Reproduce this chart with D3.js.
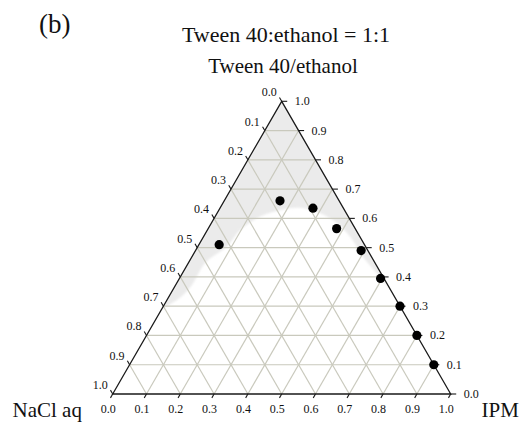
<!DOCTYPE html>
<html>
<head>
<meta charset="utf-8">
<script src="https://cdn.jsdelivr.net/npm/d3@7/dist/d3.min.js"></script>
<style>
  html, body { margin: 0; padding: 0; background: #fff; }
  svg { display: block; }
  text { font-family: "Liberation Serif", "Times New Roman", serif; fill: #111; }
</style>
</head>
<body>
<svg id="chart" width="526" height="428"></svg>
<script>
// Measured compositions (mass fractions); each triple sums to 1
const tweenEthanol = [0.51, 0.66, 0.635, 0.565, 0.49, 0.395, 0.30, 0.20, 0.10];
const ipm          = [0.06, 0.165, 0.275, 0.38, 0.49, 0.595, 0.70, 0.80, 0.90];
const naclAq       = [0.43, 0.175, 0.09, 0.055, 0.02, 0.01, 0.00, 0.00, 0.00];

// Boundary of the shaded region (Tween 40/ethanol, IPM), left edge to right edge
const boundaryTween = [0.29, 0.33, 0.37, 0.45, 0.503, 0.56, 0.606, 0.628, 0.636, 0.618, 0.584, 0.537, 0.469, 0.413, 0.355];
const boundaryIPM   = [0.00, 0.035, 0.048, 0.05, 0.086, 0.097, 0.133, 0.181, 0.236, 0.304, 0.371, 0.434, 0.506, 0.574, 0.645];

const tickValues = [0.0, 0.1, 0.2, 0.3, 0.4, 0.5, 0.6, 0.7, 0.8, 0.9, 1.0];
const gridValues = [0.1, 0.2, 0.3, 0.4, 0.5, 0.6, 0.7, 0.8, 0.9];

const svg = d3.select("#chart");

// Ternary mapping: horizontal position along the base, vertical by Tween fraction
const base = d3.scaleLinear().domain([0, 1]).range([112.7, 450.7]);
const yT = d3.scaleLinear().domain([0, 1]).range([394, 101.3]);
const pt = (t, i) => [base(i + t / 2), yT(t)];

const apex = pt(1, 0), cornerL = pt(0, 0), cornerR = pt(0, 1);

// Clip everything inside the triangle
const defs = svg.append("defs");
defs.append("clipPath").attr("id", "tri")
  .append("path").attr("d", `M${apex}L${cornerL}L${cornerR}Z`);
defs.append("filter").attr("id", "soft")
  .attr("x", "-10%").attr("y", "-10%").attr("width", "120%").attr("height", "120%")
  .append("feGaussianBlur").attr("stdDeviation", 1.3);

// Shaded region above the boundary curve
const curvePts = boundaryTween.map((t, k) => pt(t, boundaryIPM[k]));
const curvePath = d3.line().curve(d3.curveCatmullRom.alpha(0.5))(curvePts);
const regionPath = `M${apex}L${curvePts[0]}` + curvePath.replace(/^M[^C]*/, "") + `L${apex}Z`;
svg.append("g").attr("clip-path", "url(#tri)")
  .append("path")
  .attr("d", regionPath)
  .attr("fill", "#ebebeb")
  .attr("filter", "url(#soft)");

// Grid lines for the three components
const grid = svg.append("g")
  .attr("stroke", "#c9c9bd").attr("stroke-width", 1.2).attr("fill", "none");
gridValues.forEach(v => {
  // constant Tween 40/ethanol
  grid.append("line").attr("x1", pt(v, 0)[0]).attr("y1", pt(v, 0)[1])
    .attr("x2", pt(v, 1 - v)[0]).attr("y2", pt(v, 1 - v)[1]);
  // constant IPM
  grid.append("line").attr("x1", pt(0, v)[0]).attr("y1", pt(0, v)[1])
    .attr("x2", pt(1 - v, v)[0]).attr("y2", pt(1 - v, v)[1]);
  // constant NaCl aq
  grid.append("line").attr("x1", pt(1 - v, 0)[0]).attr("y1", pt(1 - v, 0)[1])
    .attr("x2", pt(0, 1 - v)[0]).attr("y2", pt(0, 1 - v)[1]);
});

// Triangle outline
svg.append("path")
  .attr("d", `M${apex}L${cornerL}L${cornerR}Z`)
  .attr("fill", "none").attr("stroke", "#1a1a1a").attr("stroke-width", 1.3)
  .attr("stroke-linejoin", "miter");

// Ticks and tick labels
const tickLen = 4.5;
const axes = svg.append("g");
const fmt = d3.format(".1f");
tickValues.forEach(v => {
  // bottom axis: IPM, ticks continue the constant-IPM lines downward-left
  const b = pt(0, v);
  axes.append("line").attr("x1", b[0]).attr("y1", b[1])
    .attr("x2", b[0] - tickLen * 0.5).attr("y2", b[1] + tickLen * 0.866)
    .attr("stroke", "#1a1a1a").attr("stroke-width", 1.1);
  axes.append("text").attr("x", b[0] - 4.5).attr("y", b[1] + 18.5)
    .attr("text-anchor", "middle").attr("font-size", 12).text(fmt(v));

  // right axis: Tween 40/ethanol, horizontal ticks
  const r = pt(v, 1 - v);
  axes.append("line").attr("x1", r[0]).attr("y1", r[1])
    .attr("x2", r[0] + tickLen + 1).attr("y2", r[1])
    .attr("stroke", "#1a1a1a").attr("stroke-width", 1.1);
  axes.append("text").attr("x", r[0] + 13).attr("y", r[1] + 4)
    .attr("text-anchor", "start").attr("font-size", 12).text(fmt(v));

  // left axis: NaCl aq, ticks continue the constant-NaCl lines upward-left
  const l = pt(1 - v, 0);
  axes.append("line").attr("x1", l[0]).attr("y1", l[1])
    .attr("x2", l[0] - tickLen * 0.5).attr("y2", l[1] - tickLen * 0.866)
    .attr("stroke", "#1a1a1a").attr("stroke-width", 1.1);
  axes.append("text").attr("x", l[0] - 5).attr("y", l[1] - 5)
    .attr("text-anchor", "end").attr("font-size", 12).text(fmt(v));
});

// Data points
svg.append("g").selectAll("circle")
  .data(tweenEthanol.map((t, k) => ({ t, i: ipm[k], n: naclAq[k] })))
  .join("circle")
  .attr("cx", d => pt(d.t, d.i)[0])
  .attr("cy", d => pt(d.t, d.i)[1])
  .attr("r", 4.6)
  .attr("fill", "#000");

// Titles and vertex labels
svg.append("text").attr("x", 39).attr("y", 33).attr("font-size", 27).text("(b)");
svg.append("text").attr("x", 286).attr("y", 42).attr("text-anchor", "middle")
  .attr("font-size", 22).text("Tween 40:ethanol = 1:1");
svg.append("text").attr("x", 283).attr("y", 73).attr("text-anchor", "middle")
  .attr("font-size", 21).text("Tween 40/ethanol");
svg.append("text").attr("x", 12.5).attr("y", 416.5).attr("font-size", 21).text("NaCl aq");
svg.append("text").attr("x", 481.5).attr("y", 416.5).attr("font-size", 21).text("IPM");
</script>
</body>
</html>
